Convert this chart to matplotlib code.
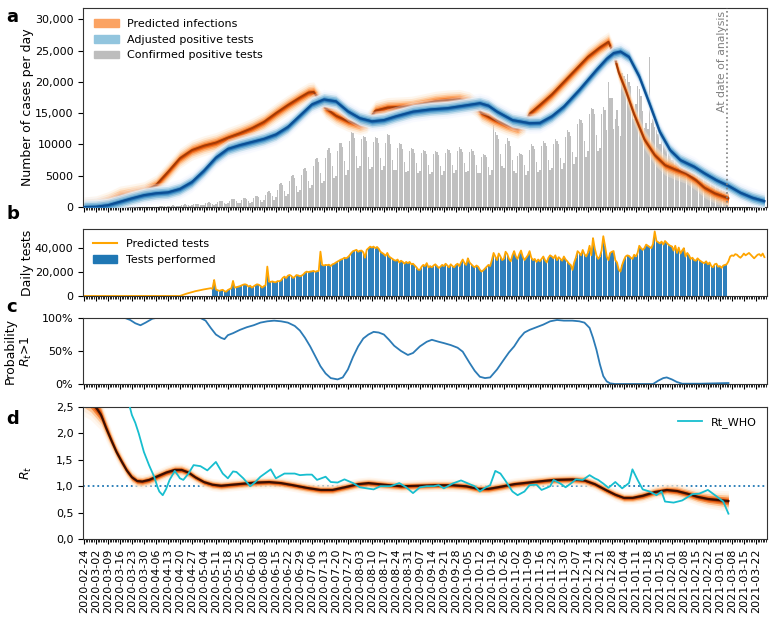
import matplotlib
matplotlib.use("Agg")
import matplotlib.pyplot as plt
import matplotlib.dates as mdates
from matplotlib.patches import Patch
from matplotlib.lines import Line2D
import numpy as np
import pandas as pd

# Day 0 of every series is 2020-02-24, all offsets below are in days.
START = pd.Timestamp("2020-02-24")
ANALYSIS_DAY = 375
XLIM_DAYS = (-0.5, 398.5)

# Panel a: predicted infections (model median)
inf_days = [0, 7, 14, 21, 28, 35, 42, 49, 56, 63,
            70, 77, 84, 91, 98, 105, 112, 119, 126, 131,
            134, 137, 141, 147, 154, 161, 165, 170, 177, 184,
            191, 198, 205, 212, 219, 225, 229, 232, 239, 246,
            253, 257, 260, 266, 273, 280, 287, 294, 301, 306,
            309, 312, 316, 321, 327, 333, 339, 345, 351, 357,
            362, 368, 376]
inf_vals = [0, 200, 850, 1750, 2080, 2450, 3500, 5600, 7800, 9100,
            9800, 10300, 11100, 11800, 12600, 13600, 15000, 16300, 17500, 18300,
            18400, 17300, 15800, 14600, 13700, 13200, 13500, 15400, 15900, 16000,
            16100, 16500, 16900, 17100, 17200, 16800, 16000, 15000, 14000, 13200,
            12600, 13300, 14900, 16300, 18000, 20000, 22000, 24000, 25500, 26400,
            24500, 21500, 18700, 14800, 10800, 8300, 6700, 6000, 5400, 4300,
            3100, 2200, 1400]

# Panel a: adjusted positive tests (model median)
pos_days = [0, 7, 14, 21, 28, 35, 42, 49, 56, 63,
            70, 77, 84, 91, 98, 105, 112, 119, 126, 133,
            140, 147, 154, 161, 168, 175, 182, 192, 202, 212,
            224, 231, 236, 241, 250, 260, 266, 273, 280, 289,
            299, 305, 309, 313, 318, 324, 330, 336, 342, 348,
            356, 362, 369, 376, 383, 390, 397]
pos_vals = [0, 50, 300, 850, 1400, 1900, 2200, 2350, 2900, 4000,
            5800, 7900, 9300, 9900, 10400, 10900, 11600, 12800, 14600, 16400,
            17200, 16900, 15300, 14200, 13700, 13900, 14500, 15250, 15600, 15800,
            16300, 16600, 16200, 15250, 13900, 13400, 13450, 14500, 16050, 18700,
            21900, 23700, 24600, 24850, 24000, 20850, 16500, 12000, 9100, 7500,
            6450, 5400, 4300, 3400, 2300, 1500, 950]

# Panel a: confirmed positive tests, one value per day from day 42 (2020-04-06)
conf_first_day = 42
conf_pos = [
    60, 90, 120, 150, 130, 100, 70,
    110, 180, 240, 260, 230, 170, 120,
    180, 300, 380, 420, 390, 280, 200,
    260, 420, 540, 560, 500, 380, 270,
    350, 600, 720, 760, 700, 520, 380,
    480, 800, 950, 1000, 920, 700, 500,
    620, 1050, 1250, 1350, 1250, 900, 650,
    700, 1150, 1400, 1450, 1350, 1000, 700,
    850, 1400, 1700, 1750, 1600, 1200, 850,
    1100, 1900, 2400, 2600, 2300, 1700, 1200,
    1600, 2800, 3700, 3900, 3500, 2500, 1800,
    2100, 4200, 5000, 5100, 4700, 3400, 2400,
    2700, 5200, 6100, 6300, 5800, 4200, 3000,
    3500, 6500, 7700, 7900, 7200, 5400, 3800,
    4200, 7800, 9200, 9400, 8700, 6500, 4600,
    5000, 9000, 10300, 10200, 9600, 7300, 5200,
    6000, 10500, 12000, 11800, 11000, 8200, 6300,
    6500, 10800, 11400, 11200, 10600, 8000, 6100,
    6400, 10400, 11200, 11000, 10200, 7800, 6000,
    6600, 10200, 11700, 11500, 10000, 7600, 6000,
    6000, 9500, 10200, 10000, 9300, 7200, 5600,
    5800, 9000, 9500, 9300, 8700, 7000, 5400,
    5700, 8700, 9200, 9000, 8500, 6800, 5300,
    5600, 8500, 9000, 8800, 8300, 6600, 5200,
    5800, 8700, 9300, 9100, 8600, 6800, 5400,
    6000, 9000, 9600, 9300, 8800, 7000, 5600,
    5800, 8800, 9300, 9000, 8400, 6800, 5400,
    5400, 8000, 8500, 8300, 8000, 6400, 5200,
    6000, 13100, 12000, 11500, 10800, 8500, 6500,
    6200, 10000, 11000, 10500, 9800, 7500, 5800,
    5500, 8200, 8700, 8500, 8300, 6800, 5200,
    5800, 9200, 10000, 9800, 9300, 7200, 5600,
    6000, 9800, 10500, 10300, 9700, 7600, 5900,
    6200, 10100, 10800, 10600, 10000, 7800, 6100,
    7000, 11200, 12300, 12000, 11300, 8800, 6900,
    8000, 13200, 14000, 13900, 13500, 10500, 8000,
    9000, 14800, 15800, 15600, 14800, 11500, 9000,
    9500, 14800, 16000, 15500, 12300, 20000, 17400,
    17400, 12500, 14000, 15500, 13000, 11300, 21400,
    21000, 20500, 21300, 20000, 19400, 16500, 14000,
    16500, 19300, 18800, 17800, 15400, 12700, 13500,
    12500, 24000, 13500, 14000, 12800, 12300, 11700,
    10000, 11700, 11300, 10600, 9800, 9300, 8500,
    7500, 9300, 9000, 8800, 8200, 7700, 6500,
    6000, 7500, 7300, 7000, 6500, 6000, 5400,
    4600, 6000, 5800, 5600, 5200, 4800, 4400,
    3800, 5000, 4800, 4500, 4200, 3700, 3200,
    2500, 3500, 3200, 2900, 2100,
]

# Panel b: tests performed, one value per day from day 75 (2020-05-09)
tests_first_day = 75
tests_done = [
    6000, 13400,
    5500, 4800, 4300, 4800, 5200, 4000, 3600,
    5000, 5800, 6500, 12600, 7000, 7400, 7800,
    8200, 8800, 9500, 9800, 9300, 7800, 8600,
    7000, 8000, 9000, 9800, 9400, 8500, 7000,
    8200, 9000, 24600, 12000, 11800, 12200, 11600,
    11500, 12500, 12300, 13000, 15100, 16200, 15000,
    17000, 17600, 16800, 15100, 16000, 17500, 17200,
    16500, 17000, 18000, 19600, 20400, 20000, 20400,
    20600, 21000, 20200, 20800, 21000, 37100, 26000,
    25500, 26000, 25800, 26200, 25000, 26500, 27000,
    28000, 28800, 29500, 30500, 31000, 32000, 31500,
    32500, 34000, 36000, 37500, 38000, 38600, 37000,
    37800, 38000, 36500, 32000, 38600, 40000, 41300,
    40500, 41300, 40000, 41000, 39500, 37000, 36000,
    35000, 33500, 36000, 33000, 32000, 31000, 30000,
    29500, 30500, 28000, 29500, 28500, 27000, 28500,
    27500, 28500, 26500, 27000, 25500, 24000, 22000,
    21800, 24500, 26000, 25000, 27500, 24000, 25000,
    24000, 25500, 26500, 25000, 23500, 24500, 26000,
    25000, 27000, 25500, 24000, 26500, 25000, 24000,
    26000, 27000, 25000, 28000, 30500, 27500, 26000,
    31500, 28000, 26500, 25000, 24000, 25500, 24500,
    22000, 20400, 21500, 23000, 24500, 26000, 25000,
    30000, 36000, 33000, 30000, 35500, 33000, 30000,
    31000, 37000, 35000, 31000, 29000, 34000, 37500,
    33000, 31000, 35000, 38000, 33000, 30000, 32000,
    34000, 37500, 32000, 30000, 31000, 28500, 30500,
    29000, 31000, 33000, 30000, 28000, 32000, 34000,
    33000, 31500, 34000, 30000, 32500, 31000, 29500,
    33000, 30500, 29000, 27000, 26000, 21800, 28000,
    32000, 37500, 36000, 34000, 38500, 35000, 33000,
    36000, 42000, 34000, 48400, 40000, 34000, 31000,
    33000, 38000, 50000, 42000, 33000, 30000, 36000,
    37000, 37600, 30000, 28000, 22000, 20400, 26000,
    30000, 33000, 34000, 33500, 32000, 31000, 34500,
    33000, 36000, 42000, 40000, 38500, 40000, 43000,
    42000, 41000, 40000, 43500, 54000, 46000, 45000,
    44000, 45500, 43000, 46000, 44500, 43000, 42000,
    41500, 38000, 42000, 36000, 40500, 35500, 38000,
    40000, 33000, 36000, 34000, 31000, 32000, 30000,
    29500, 31500, 30000, 29000, 28000, 27500, 29000,
    26500, 28000, 25000, 24000, 26500, 27000, 24500,
    25000, 23500, 25500, 26000, 26500,
]

# Panel b: predicted tests before the data starts and after the analysis date
pred_pre_days = [0, 56, 60, 65, 70, 74]
pred_pre_vals = [0, 0, 2000, 4000, 5500, 6500]
pred_post = [29000, 33000, 34000, 33500, 35000, 34500, 33000, 32000, 33500,
             35500, 34000, 35000, 36000, 34500, 33000, 31500, 33000, 34500,
             35000, 33500, 35500, 32500]

# Panel c: probability that R_t > 1 (percent)
prob_days = [0, 24, 27, 30, 33, 36, 40, 42, 68, 71,
             74, 77, 80, 82, 84, 87, 91, 95, 99, 103,
             107, 111, 115, 119, 123, 126, 129, 132, 135, 138,
             141, 144, 148, 151, 154, 157, 160, 163, 166, 169,
             172, 175, 178, 181, 185, 189, 192, 196, 200, 203,
             207, 210, 214, 218, 221, 225, 228, 231, 234, 237,
             241, 245, 248, 251, 254, 257, 260, 264, 268, 272,
             276, 280, 285, 289, 292, 295, 297, 299, 301, 303,
             305, 307, 310, 332, 335, 338, 340, 343, 346, 349,
             360, 376]
prob_vals = [100, 100, 97, 92, 89, 93, 99, 100, 100, 96,
             85, 75, 70, 68, 74, 77, 82, 86, 89, 93,
             95, 96, 95, 93, 88, 81, 70, 57, 42, 27,
             16, 9, 7, 10, 22, 41, 57, 69, 75, 79,
             78, 75, 67, 58, 50, 44, 47, 57, 64, 67,
             64, 62, 59, 55, 49, 32, 20, 11, 9, 10,
             22, 37, 48, 57, 69, 78, 82, 86, 90, 95,
             97, 96, 96, 95, 93, 85, 70, 52, 30, 12,
             4, 1, 0, 0, 5, 9, 10, 7, 3, 0.5,
             0.5, 1.5]

# Panel d: reproduction number R_t (median and spread of the posterior)
rt_days = [0, 4, 8, 10, 13, 16, 19, 22, 25, 28,
           31, 34, 38, 43, 48, 53, 57, 61, 65, 70,
           75, 80, 90, 100, 108, 115, 122, 130, 138, 145,
           152, 160, 166, 175, 185, 195, 205, 215, 223, 230,
           236, 243, 251, 262, 274, 285, 292, 298, 305, 310,
           315, 320, 326, 333, 340, 346, 352, 358, 364, 370,
           376]
rt_vals = [2.72, 2.62, 2.45, 2.35, 2.1, 1.87, 1.65, 1.47, 1.3, 1.17,
           1.1, 1.09, 1.12, 1.19, 1.26, 1.31, 1.31, 1.26, 1.17, 1.08,
           1.03, 1.01, 1.04, 1.07, 1.08, 1.06, 1.02, 0.97, 0.93, 0.93,
           0.98, 1.04, 1.06, 1.03, 1.0, 1.01, 1.02, 1.02, 1.0, 0.95,
           0.95, 0.99, 1.04, 1.08, 1.12, 1.13, 1.11, 1.04, 0.92, 0.84,
           0.78, 0.78, 0.82, 0.89, 0.93, 0.91, 0.86, 0.80, 0.76, 0.74,
           0.72]
rt_spread = [0.30, 0.28, 0.25, 0.22, 0.19, 0.16, 0.14, 0.13, 0.12, 0.11,
             0.10, 0.10, 0.10, 0.10, 0.10, 0.10, 0.10, 0.10, 0.09, 0.09,
             0.09, 0.09, 0.09, 0.09, 0.09, 0.09, 0.09, 0.09, 0.09, 0.09,
             0.09, 0.09, 0.09, 0.09, 0.09, 0.09, 0.09, 0.09, 0.09, 0.09,
             0.09, 0.09, 0.09, 0.09, 0.09, 0.09, 0.09, 0.09, 0.09, 0.09,
             0.09, 0.09, 0.10, 0.10, 0.10, 0.11, 0.11, 0.12, 0.13, 0.14,
             0.15]

# Panel d: R_t estimated with the WHO method
who_days = [26, 28, 30, 32, 35, 38, 41, 43, 44, 46,
            48, 50, 53, 55, 56, 58, 61, 64, 68, 72,
            77, 81, 84, 87, 89, 93, 97, 100, 103, 106,
            109, 112, 117, 123, 126, 130, 133, 136, 141, 144,
            148, 152, 157, 161, 165, 169, 173, 177, 179, 184,
            188, 192, 196, 200, 204, 207, 210, 215, 220, 225,
            228, 231, 234, 237, 240, 243, 246, 248, 250, 253,
            257, 260, 264, 267, 270, 272, 274, 278, 281, 284,
            287, 291, 295, 298, 300, 303, 306, 310, 314, 318,
            320, 323, 326, 330, 334, 337, 339, 344, 349, 355,
            359, 364, 369, 373, 376]
who_vals = [2.6, 2.35, 2.2, 2.0, 1.65, 1.4, 1.18, 0.98, 0.9, 0.83,
            0.95, 1.12, 1.29, 1.2, 1.15, 1.12, 1.24, 1.40, 1.38, 1.30,
            1.46, 1.24, 1.15, 1.28, 1.27, 1.15, 1.0, 1.08, 1.18, 1.25,
            1.32, 1.15, 1.24, 1.24, 1.21, 1.22, 1.22, 1.12, 1.18, 1.08,
            1.07, 1.13, 1.06, 0.98, 0.96, 0.94, 1.0, 1.0, 1.0, 1.06,
            0.98, 0.87, 0.98, 1.0, 1.0, 1.02, 0.96, 1.05, 1.11, 1.04,
            1.0, 0.90, 0.97, 1.02, 1.29, 1.24, 1.1, 1.0, 0.9, 0.83,
            0.90, 1.02, 1.03, 0.93, 0.97, 1.0, 1.12, 1.05, 0.98, 1.05,
            1.13, 1.12, 1.21, 1.15, 1.12, 1.05, 0.97, 1.08, 0.96, 1.06,
            1.32, 1.12, 0.94, 0.90, 0.83, 0.90, 0.71, 0.69, 0.73, 0.85,
            0.86, 0.93, 0.81, 0.71, 0.48]

# Tick labels as printed in the original figure
cases_ticks = [0, 5000, 10000, 15000, 20000, 25000, 30000]
cases_ticklabels = ["0", "5000", "10000", "15,000", "20,000", "25,000", "30,000"]
tests_ticks = [0, 20000, 40000]
tests_ticklabels = ["0", "20,000", "40,000"]
prob_ticks = [0, 50, 100]
prob_ticklabels = ["0%", "50%", "100%"]
rt_ticks = [0.0, 0.5, 1.0, 1.5, 2.0, 2.5]
rt_ticklabels = ["0,0", "0,5", "1,0", "1,5", "2,0", "2,5"]


def to_dates(days):
    return (START + pd.to_timedelta(np.asarray(days), unit="D")).to_pydatetime()


def fuzzy_band(ax, days, vals, spread, layers, zorder):
    # stack of fills, widest first, to fake a posterior density
    x = to_dates(days)
    y = np.asarray(vals, dtype=float)
    s = np.asarray(spread, dtype=float)
    for frac, color, alpha in layers:
        ax.fill_between(x, y - frac * s, y + frac * s, color=color,
                        alpha=alpha, lw=0, zorder=zorder)


plt.rcParams["font.family"] = "DejaVu Sans"
fig = plt.figure(figsize=(7.76, 6.2), dpi=100)
ax_a = fig.add_axes([0.107, 0.666, 0.8814, 0.321])
ax_b = fig.add_axes([0.107, 0.5226, 0.8814, 0.108], sharex=ax_a)
ax_c = fig.add_axes([0.107, 0.3806, 0.8814, 0.1065], sharex=ax_a)
ax_d = fig.add_axes([0.107, 0.1306, 0.8814, 0.2129], sharex=ax_a)

orange_layers = [(1.6, "#fee6ce", 0.35), (1.25, "#fdd0a2", 0.4), (0.95, "#fdae6b", 0.45),
                 (0.7, "#fd8d3c", 0.55), (0.45, "#f16913", 0.7), (0.25, "#d94801", 0.8)]
blue_layers = [(1.1, "white", 0.75), (1.6, "#eff3ff", 0.35), (1.25, "#deebf7", 0.45),
               (0.95, "#9ecae1", 0.5), (0.7, "#6baed6", 0.6), (0.45, "#4292c6", 0.7),
               (0.25, "#2171b5", 0.85)]
rt_layers = [(1.3, "#fff0e0", 0.5), (1.0, "#fee6ce", 0.6), (0.75, "#fdae6b", 0.6),
             (0.5, "#f16913", 0.7), (0.3, "#d94801", 0.8), (0.15, "#7f2704", 0.9)]

# --- a: cases
conf_days = np.arange(conf_first_day, conf_first_day + len(conf_pos))
ax_a.bar(to_dates(conf_days), conf_pos, width=0.85, color="#c0c0c0", zorder=1)
fuzzy_band(ax_a, inf_days, inf_vals, [1000] * len(inf_days), orange_layers, 2)
ax_a.plot(to_dates(inf_days), inf_vals, color="#a33a05", lw=1.4, zorder=2)
fuzzy_band(ax_a, pos_days, pos_vals, [1000] * len(pos_days), blue_layers, 3)
ax_a.plot(to_dates(pos_days), pos_vals, color="#0b4f95", lw=1.6, zorder=3)
analysis_date = to_dates([ANALYSIS_DAY])[0]
ax_a.axvline(analysis_date, color="grey", ls=":", lw=1.2, zorder=4)
ax_a.text(analysis_date, 31400, "At date of analysis", rotation=90, ha="right",
          va="top", color="grey", fontsize=7.8)
ax_a.set_ylim(0, 31800)
ax_a.set_yticks(cases_ticks)
ax_a.set_yticklabels(cases_ticklabels)
ax_a.set_ylabel("Number of cases per day", fontsize=9)
ax_a.legend(handles=[Patch(color="#fba363", label="Predicted infections"),
                     Patch(color="#92c5de", label="Adjusted positive tests"),
                     Patch(color="#bdbdbd", label="Confirmed positive tests")],
            loc="upper left", frameon=False, fontsize=8, handlelength=2.2,
            borderaxespad=0.6)

# --- b: tests
test_days = np.arange(tests_first_day, tests_first_day + len(tests_done))
ax_b.bar(to_dates(test_days), tests_done, width=0.8, color="#2f80bd", zorder=1)
post_days = np.arange(ANALYSIS_DAY + 1, ANALYSIS_DAY + 1 + len(pred_post))
line_days = list(pred_pre_days) + list(test_days) + list(post_days)
line_vals = list(pred_pre_vals) + list(tests_done) + list(pred_post)
ax_b.plot(to_dates(line_days), line_vals, color="orange", lw=1.3, zorder=2)
ax_b.set_ylim(0, 56000)
ax_b.set_yticks(tests_ticks)
ax_b.set_yticklabels(tests_ticklabels)
ax_b.set_ylabel("Daily tests", fontsize=9)
ax_b.legend(handles=[Line2D([], [], color="orange", lw=1.5, label="Predicted tests"),
                     Patch(color="#1f77b4", label="Tests performed")],
            loc="upper left", frameon=False, fontsize=8, handlelength=2.2,
            borderaxespad=0.5)

# --- c: probability
ax_c.plot(to_dates(prob_days), prob_vals, color="#2c7bb6", lw=1.3)
ax_c.set_ylim(0, 100)
ax_c.set_yticks(prob_ticks)
ax_c.set_yticklabels(prob_ticklabels)
ax_c.set_ylabel("Probability\n$R_t$>1", fontsize=9)

# --- d: R_t
fuzzy_band(ax_d, rt_days, rt_vals, rt_spread, rt_layers, 2)
ax_d.plot(to_dates(rt_days), rt_vals, color="#3a0f02", lw=1.5, zorder=2)
ax_d.plot(to_dates(who_days), who_vals, color="#17becf", lw=1.3, zorder=3,
          label="Rt_WHO")
ax_d.axhline(1.0, color="#1f77b4", ls=":", lw=1.3, zorder=1)
ax_d.set_ylim(0, 2.5)
ax_d.set_yticks(rt_ticks)
ax_d.set_yticklabels(rt_ticklabels)
ax_d.set_ylabel("$R_t$", fontsize=9)
ax_d.legend(loc="upper right", frameon=False, fontsize=8, handlelength=2.2)

# shared date axis
ax_d.set_xlim(to_dates([XLIM_DAYS[0]])[0], to_dates([XLIM_DAYS[1]])[0])
ax_d.xaxis.set_major_locator(mdates.WeekdayLocator(byweekday=mdates.MO))
ax_d.xaxis.set_minor_locator(mdates.DayLocator())
ax_d.xaxis.set_major_formatter(mdates.DateFormatter("%Y-%m-%d"))
for ax in (ax_a, ax_b, ax_c, ax_d):
    ax.tick_params(axis="both", which="major", labelsize=8, length=3.5, width=0.8)
    ax.tick_params(axis="x", which="minor", length=2, width=0.6)
    ax.yaxis.set_label_coords(-0.072, 0.5)
    for sp in ax.spines.values():
        sp.set_color("#333333")
for ax in (ax_a, ax_b, ax_c):
    plt.setp(ax.get_xticklabels(), visible=False)
plt.setp(ax_d.get_xticklabels(), rotation=90)

for letter, ypos in zip("abcd", [0.972, 0.655, 0.505, 0.325]):
    fig.text(0.008, ypos, letter, fontsize=13, fontweight="bold", va="center")

fig.savefig("out.png", dpi=100)
